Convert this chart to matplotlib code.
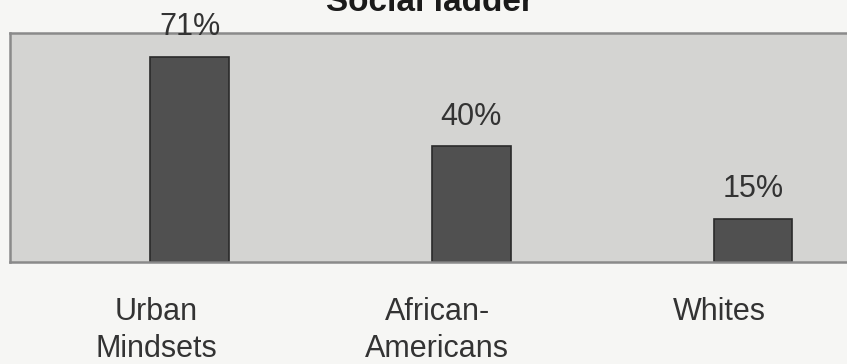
import matplotlib
matplotlib.use("Agg")
import matplotlib.pyplot as plt
import matplotlib.transforms as mtransforms
from matplotlib import font_manager
import numpy as np

categories = ["Urban\nMindsets", "African-\nAmericans", "Whites"]
values = [71, 40, 15]
value_labels = ["71%", "40%", "15%"]
title = "Social ladder"

# prefer a condensed face like the original, fall back to plain Liberation Sans
names = {f.name for f in font_manager.fontManager.ttflist}
narrow = "Liberation Sans Narrow" if "Liberation Sans Narrow" in names else "Liberation Sans"

fig = plt.figure(figsize=(8.47, 3.64), dpi=100, facecolor="#f6f6f4")
ax = fig.add_axes([10 / 847, 1 - 262 / 364, 837 / 847, (262 - 33) / 364])
ax.set_facecolor("#d4d4d2")

x = np.arange(len(categories))
rects = ax.bar(x, values, 0.28, color="#505050", edgecolor="#2a2a2a", linewidth=1.2)

for r, lab in zip(rects, value_labels):
    ax.annotate(lab, (r.get_x() + r.get_width() / 2, r.get_height()),
                xytext=(0, 15.8), textcoords="offset points",
                ha="center", va="baseline", fontsize=22,
                family=narrow, color="#333333", annotation_clip=False)

ax.set_xlim(-0.639, 2.334)
ax.set_ylim(0, 79.3)
ax.set_yticks([])
ax.set_xticks(x, categories, fontsize=22, family=narrow, color="#333333",
              linespacing=1.32)
ax.tick_params(axis="x", length=0, pad=25)
# category labels sit a bit left of the bars in the original
shift = mtransforms.ScaledTranslation(-0.34, 0, fig.dpi_scale_trans)
for t in ax.get_xticklabels():
    t.set_transform(t.get_transform() + shift)

for side in ["left", "top", "bottom"]:
    ax.spines[side].set_color("#8a8a8a")
    ax.spines[side].set_linewidth(1.8)
ax.spines["right"].set_visible(False)

fig.text(430 / 847, 1 - 11 / 364, title, ha="center", va="baseline",
         fontsize=24, fontweight="bold", family="Liberation Sans", color="#1a1a1a")

fig.savefig("out.png", dpi=100, facecolor=fig.get_facecolor())
